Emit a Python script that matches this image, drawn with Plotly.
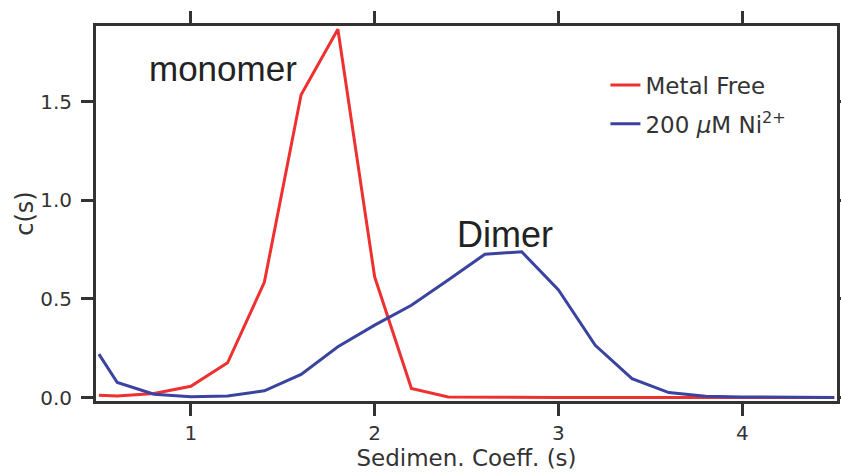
import plotly.graph_objects as go

# Sedimentation coefficient grid (S)
s_values = [0.5, 0.6, 0.8, 1.0, 1.2, 1.4, 1.6, 1.8, 2.0, 2.2, 2.4, 2.6, 2.8,
            3.0, 3.2, 3.4, 3.6, 3.8, 4.0, 4.2, 4.4, 4.5]

metal_free = [0.012, 0.008, 0.02, 0.057, 0.176, 0.584, 1.535, 1.868, 0.612,
              0.046, 0.003, 0.001, 0.0, 0.0, 0.0, 0.0, 0.0, 0.0, 0.0, 0.0, 0.0, 0.0]

nickel_200uM = [0.22, 0.076, 0.017, 0.004, 0.008, 0.034, 0.117, 0.257, 0.367,
                0.468, 0.596, 0.727, 0.739, 0.545, 0.265, 0.096, 0.025, 0.007,
                0.003, 0.001, 0.0, 0.0]

series_names = ["Metal Free", "200 <i>μ</i>M Ni<sup>2+</sup>"]
x_tick_vals = [1, 2, 3, 4]
y_tick_vals = [0.0, 0.5, 1.0, 1.5]
y_tick_text = ["0.0", "0.5", "1.0", "1.5"]

RED = "#ee3030"
BLUE = "#3a44a0"
AX = "#333333"
FONT = "DejaVu Sans"

fig = go.Figure()
fig.add_trace(go.Scatter(x=s_values, y=metal_free, mode="lines", name=series_names[0],
                         line=dict(color=RED, width=3), legendgroup="a"))
fig.add_trace(go.Scatter(x=s_values, y=nickel_200uM, mode="lines", name=series_names[1],
                         line=dict(color=BLUE, width=3), legendgroup="b"))

axis_common = dict(showline=True, linewidth=3, linecolor=AX, mirror="ticks",
                   ticks="outside", ticklen=12, tickwidth=3, tickcolor=AX,
                   showgrid=False, zeroline=False, automargin=False,
                   tickfont=dict(family=FONT, size=20, color=AX))

fig.update_xaxes(range=[0.4843, 4.515], tickvals=x_tick_vals, ticklabelstandoff=0,
                 title=dict(text="Sedimen. Coeff. (s)", standoff=0,
                            font=dict(family=FONT, size=23, color=AX)),
                 **axis_common)
fig.update_yaxes(range=[-0.0177, 1.884], tickvals=y_tick_vals, ticktext=y_tick_text,
                 ticklabelstandoff=5,
                 title=dict(text="c(s)", standoff=0,
                            font=dict(family=FONT, size=24, color=AX)),
                 **axis_common)

fig.add_annotation(x=1.175, y=1.671, xref="x", yref="y", text="monomer", showarrow=False,
                   font=dict(family="Liberation Sans", size=35, color="#222222"))
fig.add_annotation(x=2.71, y=0.826, xref="x", yref="y", text="Dimer", showarrow=False,
                   font=dict(family="Liberation Sans", size=36, color="#222222"))

fig.update_layout(
    width=841, height=476,
    margin=dict(l=96, r=4, t=26, b=75, autoexpand=False),
    paper_bgcolor="white", plot_bgcolor="white",
    showlegend=True,
    legend=dict(x=0.6875, y=0.90, xanchor="left", yanchor="top",
                bgcolor="rgba(0,0,0,0)", traceorder="grouped", tracegroupgap=6,
                font=dict(family=FONT, size=23, color=AX)),
)

# remove the default page margin so the figure fills the window exactly
fig.write_html("out.html", config={"displayModeBar": False},
               post_script="document.body.style.margin='0';document.body.style.overflow='hidden';")
